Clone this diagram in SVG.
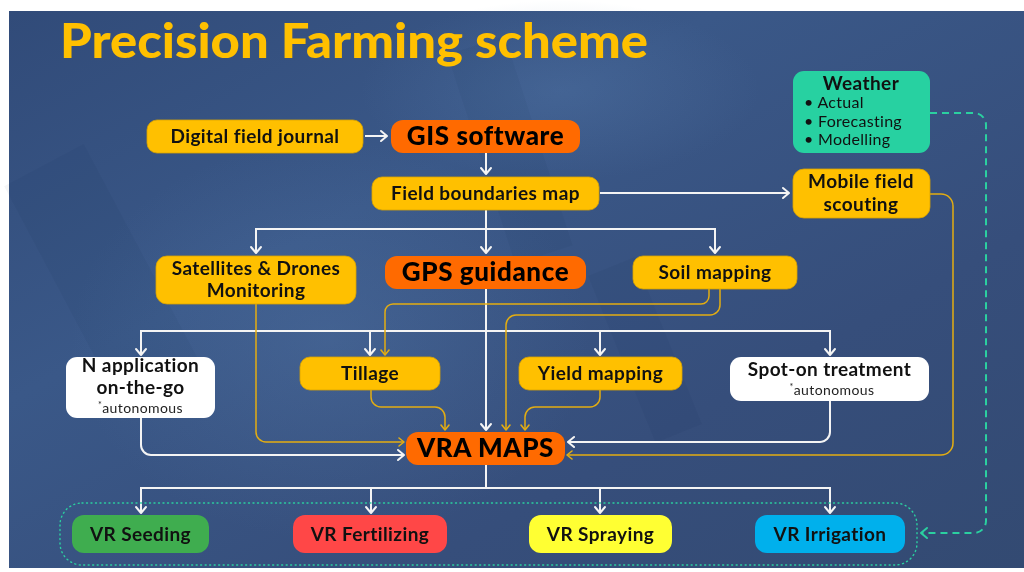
<svg xmlns="http://www.w3.org/2000/svg" width="1024" height="572" viewBox="0 0 1024 572">
  <defs>
    <linearGradient id="bg" x1="0" y1="0" x2="1" y2="1">
      <stop offset="0" stop-color="#314b79"/>
      <stop offset="0.35" stop-color="#3a5888"/>
      <stop offset="0.7" stop-color="#364e7b"/>
      <stop offset="1" stop-color="#334a72"/>
    </linearGradient>
    <radialGradient id="glow" cx="0.5" cy="0.5" r="0.5">
      <stop offset="0" stop-color="#5a7fb0" stop-opacity="0.3"/>
      <stop offset="1" stop-color="#5a7fb0" stop-opacity="0"/>
    </radialGradient>
    <marker id="aw" markerUnits="userSpaceOnUse" markerWidth="14" markerHeight="14" viewBox="-8 -7 10 14" refX="0" refY="0" orient="auto">
      <path d="M-6,-5 L0,0 L-6,5" fill="none" stroke="#f4f4f4" stroke-width="2" stroke-linecap="round" stroke-linejoin="round"/>
    </marker>
    <marker id="ay" markerUnits="userSpaceOnUse" markerWidth="14" markerHeight="14" viewBox="-8 -7 10 14" refX="0" refY="0" orient="auto">
      <path d="M-5,-4 L0,0 L-5,4" fill="none" stroke="#e3ad12" stroke-width="1.6" stroke-linecap="round" stroke-linejoin="round"/>
    </marker>
    <marker id="at" markerUnits="userSpaceOnUse" markerWidth="14" markerHeight="14" viewBox="-8 -7 10 14" refX="0" refY="0" orient="auto">
      <path d="M-6,-5 L0,0 L-6,5" fill="none" stroke="#2bd0a0" stroke-width="2" stroke-linecap="round" stroke-linejoin="round"/>
    </marker>
    <style>
      .lbl { font-family: Lato, "Noto Sans", "DejaVu Sans", sans-serif; font-weight: 700; fill: #111; text-anchor: middle; font-size: 19px; letter-spacing: 0.4px; }
      .big { font-family: Lato, "Noto Sans", "DejaVu Sans", sans-serif; font-weight: 900; fill: #000; text-anchor: middle; font-size: 26px; letter-spacing: 0.6px; }
      .sub { font-family: Lato, "Noto Sans", "DejaVu Sans", sans-serif; font-weight: 400; fill: #222; text-anchor: middle; font-size: 14px; letter-spacing: 0.4px; }
      .yel { fill: #ffc000; stroke: #d9a300; stroke-width: 0.8; }
      .org { fill: #ff6a00; }
      .wht { fill: #ffffff; }
      .cw { fill: none; stroke: #f4f4f4; stroke-width: 2; }
      .cy { fill: none; stroke: #e3ad12; stroke-width: 1.5; }
    </style>
  </defs>

  <!-- backdrop -->
  <rect x="0" y="0" width="1024" height="572" fill="#ffffff"/>
  <rect x="9" y="11" width="1015" height="557" fill="url(#bg)"/>
  <ellipse cx="330" cy="340" rx="260" ry="200" fill="url(#glow)"/>
  <ellipse cx="560" cy="90" rx="200" ry="90" fill="url(#glow)"/>
  <g opacity="0.04" fill="#0f1f3f">
    <rect x="60" y="150" width="90" height="260" transform="rotate(-28 105 280)"/>
    <rect x="480" y="40" width="60" height="220" transform="rotate(-18 510 150)"/>
    <rect x="620" y="260" width="50" height="180" transform="rotate(-22 645 350)"/>
  </g>

  <text x="60" y="58" font-family="Lato, 'Noto Sans', sans-serif" font-weight="900" font-size="47" fill="#ffc000" textLength="588" lengthAdjust="spacingAndGlyphs">Precision Farming scheme</text>

  <!-- connectors -->
  <g id="connectors">
    <path class="cw" d="M365,136 H387" marker-end="url(#aw)"/>
    <path class="cw" d="M486,153 V174" marker-end="url(#aw)"/>
    <path class="cw" d="M600,193 H789" marker-end="url(#aw)"/>
    <path class="cw" d="M486,210 V253" marker-end="url(#aw)"/>
    <path class="cw" d="M486,229 H256 V253" marker-end="url(#aw)"/>
    <path class="cw" d="M486,229 H715 V253" marker-end="url(#aw)"/>

    <path class="cw" d="M486,289 V430" marker-end="url(#aw)"/>
    <path class="cw" d="M486,331 H141 V355" marker-end="url(#aw)"/>
    <path class="cw" d="M370,331 V355" marker-end="url(#aw)"/>
    <path class="cw" d="M486,331 H830 V355" marker-end="url(#aw)"/>
    <path class="cw" d="M600,331 V355" marker-end="url(#aw)"/>

    <path class="cy" d="M709,289 V296 a8,8 0 0 1 -8,8 H393 a8,8 0 0 0 -8,8 V355" marker-end="url(#ay)"/>
    <path class="cy" d="M720,289 V305 a10,10 0 0 1 -10,10 H516 a10,10 0 0 0 -10,10 V430" marker-end="url(#ay)"/>
    <path class="cy" d="M371,390 V397 a10,10 0 0 0 10,10 H435 a10,10 0 0 1 10,10 V430" marker-end="url(#ay)"/>
    <path class="cy" d="M600,390 V397 a10,10 0 0 1 -10,10 H535 a10,10 0 0 0 -10,10 V430" marker-end="url(#ay)"/>
    <path class="cy" d="M256,304 V432 a10,10 0 0 0 10,10 H404" marker-end="url(#ay)"/>
    <path class="cw" d="M141,418 V445 a10,10 0 0 0 10,10 H404" marker-end="url(#aw)"/>
    <path class="cw" d="M830,401 V432 a10,10 0 0 1 -10,10 H568" marker-end="url(#aw)"/>
    <path class="cy" d="M930,194 H941 a12,12 0 0 1 12,12 V443 a12,12 0 0 1 -12,12 H567" marker-end="url(#ay)"/>
    <path d="M930,113 H974 a12,12 0 0 1 12,12 V521 a12,12 0 0 1 -12,12 H921" fill="none" stroke="#2bd0a0" stroke-width="2" stroke-dasharray="7 5" marker-end="url(#at)"/>

    <path class="cw" d="M486,465 V488 H141 V513" marker-end="url(#aw)"/>
    <path class="cw" d="M371,488 V513" marker-end="url(#aw)"/>
    <path class="cw" d="M486,488 H830 V513" marker-end="url(#aw)"/>
    <path class="cw" d="M600,488 V513" marker-end="url(#aw)"/>

    <rect x="60" y="503" width="857" height="62" rx="22" fill="none" stroke="#2bd0a0" stroke-width="1.4" stroke-dasharray="1 3.5" stroke-linecap="round"/>
  </g>

  <!-- nodes -->
  <g id="digital-journal">
    <rect class="yel" x="147" y="120" width="216" height="33" rx="10"/>
    <text class="lbl" x="255" y="143">Digital field journal</text>
  </g>
  <g id="gis">
    <rect class="org" x="391" y="120" width="189" height="33" rx="12"/>
    <text class="big" x="485.5" y="145">GIS software</text>
  </g>
  <g id="field-boundaries">
    <rect class="yel" x="372" y="177" width="227" height="33" rx="10"/>
    <text class="lbl" x="485.5" y="200">Field boundaries map</text>
  </g>
  <g id="weather">
    <rect x="793" y="71" width="137" height="82" rx="11" fill="#27d1a1"/>
    <text class="lbl" x="861" y="90">Weather</text>
    <g font-family="Lato, 'Noto Sans', sans-serif" font-size="16" fill="#111" letter-spacing="0.3">
      <text x="804" y="108">• Actual</text>
      <text x="804" y="127">• Forecasting</text>
      <text x="804" y="145">• Modelling</text>
    </g>
  </g>
  <g id="mobile-scouting">
    <rect class="yel" x="793" y="169" width="137" height="49" rx="11"/>
    <text class="lbl" x="861" y="188">Mobile field</text>
    <text class="lbl" x="861" y="211">scouting</text>
  </g>
  <g id="satellites">
    <rect class="yel" x="156" y="256" width="200" height="48" rx="11"/>
    <text class="lbl" x="256" y="275">Satellites &amp; Drones</text>
    <text class="lbl" x="256" y="297">Monitoring</text>
  </g>
  <g id="gps">
    <rect class="org" x="385" y="256" width="201" height="33" rx="12"/>
    <text class="big" x="485.5" y="281">GPS guidance</text>
  </g>
  <g id="soil">
    <rect class="yel" x="633" y="256" width="164" height="33" rx="10"/>
    <text class="lbl" x="715" y="279">Soil mapping</text>
  </g>
  <g id="n-application">
    <rect class="wht" x="66" y="357" width="149" height="61" rx="11"/>
    <text class="lbl" x="140.5" y="372" font-size="18">N application</text>
    <text class="lbl" x="140.5" y="394" font-size="18">on-the-go</text>
    <text class="sub" x="140.5" y="413" font-size="13"><tspan font-size="9" dy="-5">*</tspan><tspan dy="5">autonomous</tspan></text>
  </g>
  <g id="tillage">
    <rect class="yel" x="300" y="357" width="140" height="33" rx="10"/>
    <text class="lbl" x="370" y="380">Tillage</text>
  </g>
  <g id="yield">
    <rect class="yel" x="519" y="357" width="163" height="33" rx="10"/>
    <text class="lbl" x="600.5" y="380">Yield mapping</text>
  </g>
  <g id="spot-on">
    <rect class="wht" x="730" y="357" width="199" height="44" rx="11"/>
    <text class="lbl" x="829.5" y="376">Spot-on treatment</text>
    <text class="sub" x="832" y="395"><tspan font-size="9" dy="-5">*</tspan><tspan dy="5">autonomous</tspan></text>
  </g>
  <g id="vra-maps">
    <rect class="org" x="406" y="432" width="159" height="33" rx="12"/>
    <text class="big" x="485.5" y="457">VRA MAPS</text>
  </g>
  <g id="vr-seeding">
    <rect x="72" y="515" width="137" height="38" rx="12" fill="#3fad4f"/>
    <text class="lbl" x="140.5" y="541">VR Seeding</text>
  </g>
  <g id="vr-fertilizing">
    <rect x="293" y="515" width="154" height="38" rx="12" fill="#ff4747"/>
    <text class="lbl" x="370" y="541">VR Fertilizing</text>
  </g>
  <g id="vr-spraying">
    <rect x="529" y="515" width="143" height="38" rx="12" fill="#ffff33"/>
    <text class="lbl" x="600.5" y="541">VR Spraying</text>
  </g>
  <g id="vr-irrigation">
    <rect x="755" y="515" width="150" height="38" rx="12" fill="#00b0ec"/>
    <text class="lbl" x="830" y="541">VR Irrigation</text>
  </g>
</svg>
